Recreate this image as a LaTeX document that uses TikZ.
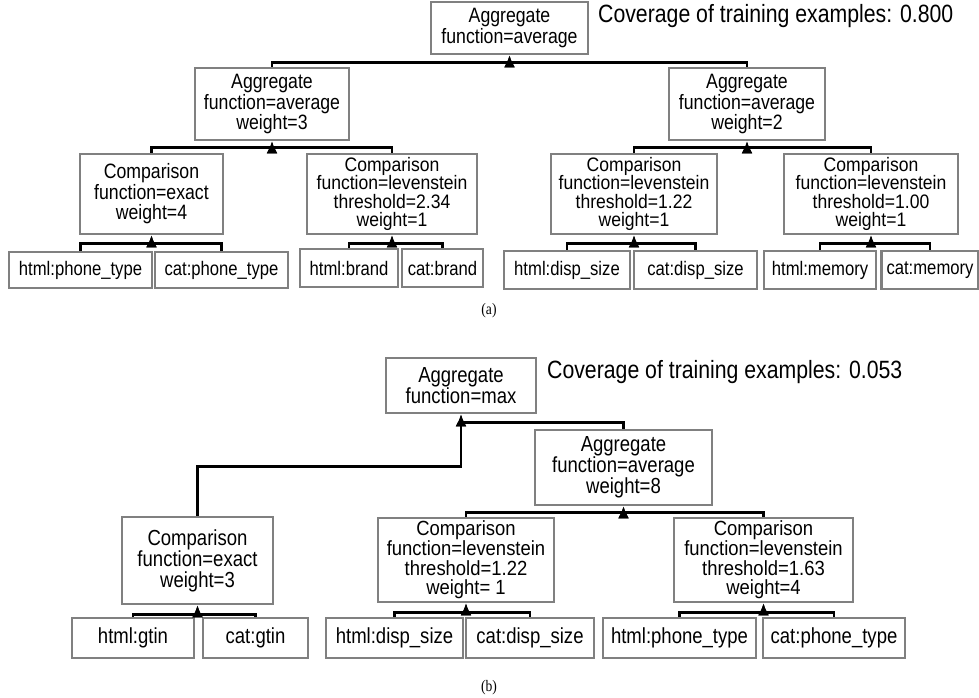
\documentclass[tikz,border=0pt]{standalone}
\usepackage{fontspec}
\setmainfont{Liberation Sans}[FakeStretch=0.85]
\newfontfamily\widesans{Liberation Sans}[FakeStretch=0.9]
\newfontfamily\capfont{Liberation Serif}[FakeStretch=0.85]
\usetikzlibrary{arrows.meta,calc}
\definecolor{boxgray}{RGB}{128,128,128}
\begin{document}
\begin{tikzpicture}[x=1pt,y=-1pt,
  box/.style={draw=boxgray, line width=2.6pt, inner sep=0pt, align=center, fill=white},
  fa/.style={font=\widesans\fontsize{19.5}{18.6}\selectfont},
  fa3/.style={font=\fontsize{20.8}{20.6}\selectfont},
  fal/.style={font=\fontsize{19.6}{20}\selectfont},
  fb/.style={font=\widesans\fontsize{20.5}{19.6}\selectfont},
  fbl/.style={font=\fontsize{21.8}{21}\selectfont},
  fb3/.style={font=\fontsize{21.8}{21}\selectfont},
  conn/.style={line width=2.8pt, line join=miter, -{Latex[length=12pt,width=11pt]}},
  covtext/.style={anchor=west, inner sep=0pt, font=\fontsize{25}{28}\selectfont},
  captext/.style={inner sep=0pt, font=\capfont\fontsize{16}{18}\selectfont}]
\useasboundingbox[fill=white] (0,0) rectangle (979,697);

% ---------- (a) ----------
\node[box,fa3,minimum width=157pt,minimum height=52pt] (aTop) at (509.5,28) {Aggregate\\function=average};
\node[covtext] (aCov) at (598,16) {Coverage of training examples: 0.800};

\node[box,fa3,minimum width=154pt,minimum height=72pt] (aL) at (272,104) {Aggregate\\function=average\\weight=3};
\node[box,fa3,minimum width=156pt,minimum height=72pt] (aR) at (747,104) {Aggregate\\function=average\\weight=2};

\node[box,fa3,minimum width=143pt,minimum height=80pt] (aC1) at (151.5,194) {Comparison\\function=exact\\weight=4};
\node[box,fa,minimum width=170pt,minimum height=80pt] (aC2) at (392,194) {Comparison\\function=levenstein\\threshold=2.34\\weight=1};
\node[box,fa,minimum width=166pt,minimum height=80pt] (aC3) at (634,194) {Comparison\\function=levenstein\\threshold=1.22\\weight=1};
\node[box,fa,minimum width=174pt,minimum height=80pt] (aC4) at (871,194) {Comparison\\function=levenstein\\threshold=1.00\\weight=1};

\node[box,fal,minimum width=143pt,minimum height=36pt] (aL1) at (80.5,270) {html:phone\_type};
\node[box,fal,minimum width=133pt,minimum height=36pt] (aL2) at (221.5,270) {cat:phone\_type};
\node[box,fal,minimum width=98pt,minimum height=38pt] (aL3) at (349,268) {html:brand};
\node[box,fal,minimum width=81pt,minimum height=38pt] (aL4) at (442.5,268) {cat:brand};
\node[box,fal,minimum width=126pt,minimum height=38pt] (aL5) at (567,270) {html:disp\_size};
\node[box,fal,minimum width=123pt,minimum height=38pt] (aL6) at (695.5,270) {cat:disp\_size};
\node[box,fal,minimum width=112pt,minimum height=38pt] (aL7) at (820,270) {html:memory};
\node[box,fal,minimum width=97pt,minimum height=38pt] (aL8) at (930,270) {cat:memory};

\node[captext] (aCap) at (489,311) {(a)};

\coordinate (jaTop) at ($(aTop.south)+(0,7)$);
\coordinate (jaL) at ($(aL.south)+(0,6)$);
\coordinate (jaR) at ($(aR.south)+(0,6)$);
\coordinate (jaC1) at ($(aC1.south)+(0,8)$);
\coordinate (jaC2) at ($(aC2.south)+(0,8)$);
\coordinate (jaC3) at ($(aC3.south)+(0,8)$);
\coordinate (jaC4) at ($(aC4.south)+(0,8)$);

\draw[conn] (aL.north) |- (jaTop) -- (aTop.south);
\draw[conn] (aR.north) |- (jaTop) -- (aTop.south);
\draw[conn] (aC1.north) |- (jaL) -- (aL.south);
\draw[conn] (aC2.north) |- (jaL) -- (aL.south);
\draw[conn] (aC3.north) |- (jaR) -- (aR.south);
\draw[conn] (aC4.north) |- (jaR) -- (aR.south);
\draw[conn] (aL1.north) |- (jaC1) -- (aC1.south);
\draw[conn] (aL2.north) |- (jaC1) -- (aC1.south);
\draw[conn] (aL3.north) |- (jaC2) -- (aC2.south);
\draw[conn] (aL4.north) |- (jaC2) -- (aC2.south);
\draw[conn] (aL5.north) |- (jaC3) -- (aC3.south);
\draw[conn] (aL6.north) |- (jaC3) -- (aC3.south);
\draw[conn] (aL7.north) |- (jaC4) -- (aC4.south);
\draw[conn] (aL8.north) |- (jaC4) -- (aC4.south);

% ---------- (b) ----------
\node[box,fb3,minimum width=150pt,minimum height=55pt] (bMax) at (461,385.5) {Aggregate\\function=max};
\node[covtext] (bCov) at (547,372) {Coverage of training examples: 0.053};

\node[box,fb3,minimum width=177pt,minimum height=75pt] (bAvg) at (623.5,467.5) {Aggregate\\function=average\\weight=8};

\node[box,fb3,minimum width=151pt,minimum height=87pt] (bC1) at (197.5,560.5) {Comparison\\function=exact\\weight=3};
\node[box,fb,minimum width=176pt,minimum height=84pt] (bC2) at (466,560) {Comparison\\function=levenstein\\threshold=1.22\\weight= 1};
\node[box,fb,minimum width=179pt,minimum height=84pt] (bC3) at (763.5,560) {Comparison\\function=levenstein\\threshold=1.63\\weight=4};

\node[box,fbl,minimum width=122pt,minimum height=40pt] (bL1) at (133,638) {html:gtin};
\node[box,fbl,minimum width=105pt,minimum height=40pt] (bL2) at (255.5,638) {cat:gtin};
\node[box,fbl,minimum width=137pt,minimum height=40pt] (bL3) at (394.5,638) {html:disp\_size};
\node[box,fbl,minimum width=128pt,minimum height=40pt] (bL4) at (530,638) {cat:disp\_size};
\node[box,fbl,minimum width=153pt,minimum height=40pt] (bL5) at (679.5,638) {html:phone\_type};
\node[box,fbl,minimum width=142pt,minimum height=40pt] (bL6) at (834,638) {cat:phone\_type};

\node[captext] (bCap) at (489,688) {(b)};

\coordinate (jbMax) at ($(bMax.south)+(0,8)$);
\coordinate (jbLeft) at ($(bMax.south)+(0,52)$);
\coordinate (jbAvg) at ($(bAvg.south)+(0,6)$);
\coordinate (jbC1) at ($(bC1.south)+(0,9)$);
\coordinate (jbC2) at ($(bC2.south)+(0,9)$);
\coordinate (jbC3) at ($(bC3.south)+(0,9)$);

\draw[conn] (bC1.north) |- (jbLeft) -- (bMax.south);
\draw[conn] (bAvg.north) |- (jbMax) -- (bMax.south);
\draw[conn] (bC2.north) |- (jbAvg) -- (bAvg.south);
\draw[conn] (bC3.north) |- (jbAvg) -- (bAvg.south);
\draw[conn] (bL1.north) |- (jbC1) -- (bC1.south);
\draw[conn] (bL2.north) |- (jbC1) -- (bC1.south);
\draw[conn] (bL3.north) |- (jbC2) -- (bC2.south);
\draw[conn] (bL4.north) |- (jbC2) -- (bC2.south);
\draw[conn] (bL5.north) |- (jbC3) -- (bC3.south);
\draw[conn] (bL6.north) |- (jbC3) -- (bC3.south);
\end{tikzpicture}
\end{document}
